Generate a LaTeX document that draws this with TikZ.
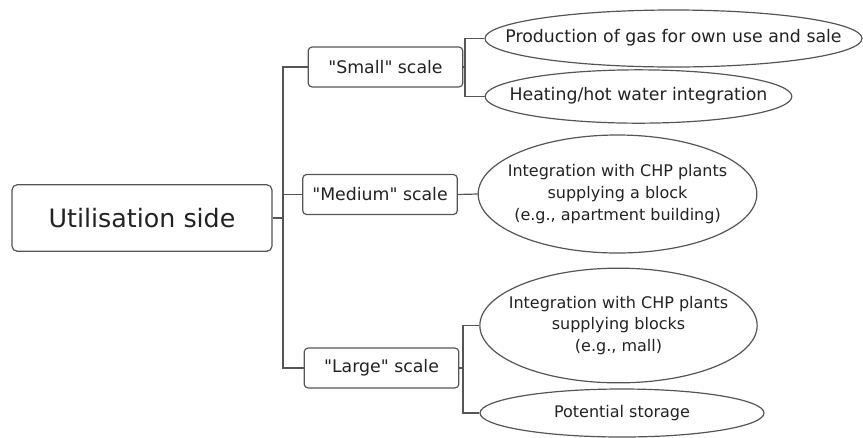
\documentclass[tikz,border=0pt]{standalone}
\usepackage{fontspec}
\setmainfont{DejaVu Sans}
\usetikzlibrary{shapes.geometric}
\definecolor{linegray}{HTML}{555555}
\definecolor{textgray}{HTML}{222222}
% text of an oval, kept out of the size of the shape
\newcommand{\ovtxt}[2]{\makebox[0pt]{\fontsize{#1}{16.25}\selectfont\begin{tabular}{@{}c@{}}#2\end{tabular}}}
\newcommand{\qt}[1]{\textquotedbl#1\textquotedbl}
\tikzset{
  rootbox/.style={draw=linegray, line width=0.9pt, rounded corners=4pt, inner sep=0pt,
    minimum width=195pt, minimum height=50pt, font=\fontsize{19}{23}\selectfont},
  scalebox/.style={draw=linegray, line width=0.9pt, rounded corners=3pt, inner sep=0pt,
    minimum width=116pt, minimum height=30pt, font=\fontsize{13}{16}\selectfont},
  oval/.style={ellipse, draw=linegray, line width=0.9pt, inner sep=0pt},
  link/.style={draw=linegray, line width=0.9pt}
}
\begin{document}
\begin{tikzpicture}[x=0.75pt,y=-0.75pt,text=textgray]
  \useasboundingbox (0,0) rectangle (863,437);

  % Root
  \node [rootbox] (util) at (142,218) {Utilisation side};

  % Scales
  \node [scalebox] (small) at (385.5,67) {\qt{Small} scale};
  \node [scalebox] (medium) at (380,194.5) {\qt{Medium} scale};
  \node [scalebox] (large) at (381.5,368) {\qt{Large} scale};

  % Uses
  \node [oval, minimum width=282.75pt, minimum height=42.75pt] (prod) at (673.5,38.5)
    {\ovtxt{13}{Production of gas for own use and sale}};
  \node [oval, minimum width=230pt, minimum height=40pt] (heat) at (638.5,96.5)
    {\ovtxt{13}{Heating/hot water integration}};
  \node [oval, minimum width=209pt, minimum height=88.5pt] (chpa) at (617.5,194)
    {\ovtxt{12}{Integration with CHP plants\\supplying a block\\ (e.g., apartment building)}};
  \node [oval, minimum width=208pt, minimum height=86pt] (chpb) at (618.5,325.5)
    {\ovtxt{12}{Integration with CHP plants\\supplying blocks\\(e.g., mall)}};
  \node [oval, minimum width=213pt, minimum height=36pt] (store) at (622,413)
    {\ovtxt{12}{Potential storage}};

  % Links
  \coordinate (trunk) at (283,218);
  \coordinate (sfork) at (465,67);
  \coordinate (lfork) at (463,368);
  \draw [link] (util.east) -- (trunk);
  \draw [link] (trunk) |- (small.west);
  \draw [link] (trunk) |- (medium.west);
  \draw [link] (trunk) |- (large.west);
  \draw [link] (small.east) -- (sfork);
  \draw [link] (sfork) |- (prod.west);
  \draw [link] (sfork) |- (heat.west);
  \draw [link] (medium.east) -- (chpa.west);
  \draw [link] (large.east) -- (lfork);
  \draw [link] (lfork) |- (chpb.west);
  \draw [link] (lfork) |- (store.west);
\end{tikzpicture}
\end{document}
